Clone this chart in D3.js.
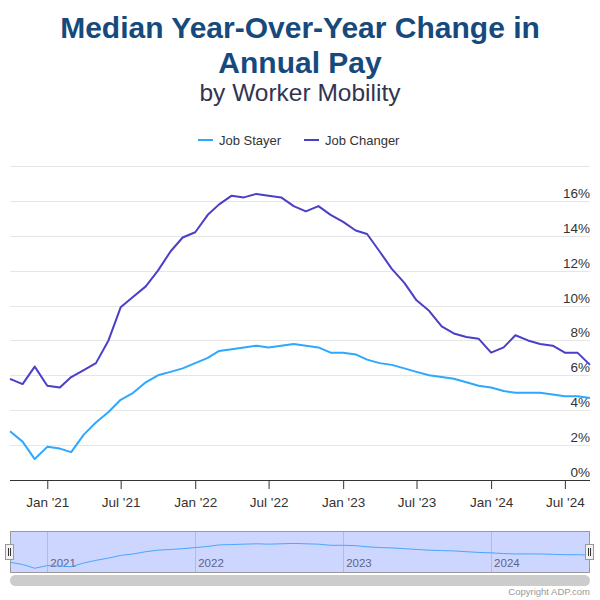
<!DOCTYPE html>
<html>
<head>
<meta charset="utf-8">
<script src="https://cdn.jsdelivr.net/npm/d3@7"></script>
<style>
  html, body { margin: 0; padding: 0; background: #fff; }
  svg { display: block; font-family: "Liberation Sans", Arial, Helvetica, sans-serif; }
</style>
</head>
<body>
<svg id="chart" width="600" height="600"></svg>
<script>
// ---- Data ----
const months = [
  "2020-10","2020-11","2020-12",
  "2021-01","2021-02","2021-03","2021-04","2021-05","2021-06","2021-07","2021-08","2021-09","2021-10","2021-11","2021-12",
  "2022-01","2022-02","2022-03","2022-04","2022-05","2022-06","2022-07","2022-08","2022-09","2022-10","2022-11","2022-12",
  "2023-01","2023-02","2023-03","2023-04","2023-05","2023-06","2023-07","2023-08","2023-09","2023-10","2023-11","2023-12",
  "2024-01","2024-02","2024-03","2024-04","2024-05","2024-06","2024-07","2024-08","2024-09"
];
const jobStayer = [
  2.8, 2.2, 1.2,
  1.9, 1.8, 1.6, 2.6, 3.3, 3.9, 4.6, 5.0, 5.6, 6.0, 6.2, 6.4,
  6.7, 7.0, 7.4, 7.5, 7.6, 7.7, 7.6, 7.7, 7.8, 7.7, 7.6, 7.3,
  7.3, 7.2, 6.9, 6.7, 6.6, 6.4, 6.2, 6.0, 5.9, 5.8, 5.6, 5.4,
  5.3, 5.1, 5.0, 5.0, 5.0, 4.9, 4.8, 4.8, 4.7
];
const jobChanger = [
  5.8, 5.5, 6.5,
  5.4, 5.3, 5.9, 6.3, 6.7, 8.0, 9.9, 10.5, 11.1, 12.0, 13.1, 13.9,
  14.2, 15.2, 15.8, 16.3, 16.2, 16.4, 16.3, 16.2, 15.7, 15.4, 15.7, 15.2,
  14.8, 14.3, 14.1, 13.1, 12.1, 11.3, 10.3, 9.7, 8.8, 8.4, 8.2, 8.1,
  7.3, 7.6, 8.3, 8.0, 7.8, 7.7, 7.3, 7.3, 6.6
];
const seriesNames = ["Job Stayer", "Job Changer"];
const seriesColors = ["#2ea8ff", "#4a3fc6"];
const yTicks = [0, 2, 4, 6, 8, 10, 12, 14, 16, 18];
const xTickDates = ["2021-01","2021-07","2022-01","2022-07","2023-01","2023-07","2024-01","2024-07"];
const navYears = ["2021","2022","2023","2024"];
const titleLines = ["Median Year-Over-Year Change in", "Annual Pay"];
const subtitleText = "by Worker Mobility";
const creditText = "Copyright ADP.com";

// ---- Setup ----
const parse = d3.timeParse("%Y-%m");
const dates = months.map(parse);
const svg = d3.select("#chart");

const plotLeft = 10, plotRight = 590, plotTop = 166, plotBottom = 480;

const x = d3.scaleTime().domain(d3.extent(dates)).range([plotLeft, plotRight]);
const y = d3.scaleLinear().domain([0, 18]).range([plotBottom, plotTop]);

// Title
svg.append("g").selectAll("text").data(titleLines).join("text")
  .attr("x", 300).attr("y", (d, i) => 38 + i * 35)
  .attr("text-anchor", "middle")
  .attr("font-size", 30).attr("font-weight", "bold")
  .attr("fill", "#174a7c")
  .text(d => d);

svg.append("text")
  .attr("x", 300).attr("y", 101)
  .attr("text-anchor", "middle")
  .attr("font-size", 24.5)
  .attr("fill", "#333352")
  .text(subtitleText);

// Legend
const legendX = [198, 304];
const lg = svg.append("g").selectAll("g").data(seriesNames).join("g")
  .attr("transform", (d, i) => `translate(${legendX[i]},140)`);
lg.append("line").attr("x1", 0).attr("x2", 15).attr("y1", 0).attr("y2", 0)
  .attr("stroke", (d, i) => seriesColors[i]).attr("stroke-width", 2);
lg.append("text").attr("x", 21).attr("y", 4.5)
  .attr("font-size", 13).attr("fill", "#333").text(d => d);

// Grid lines
svg.append("g").selectAll("line").data(yTicks.filter(t => t > 0)).join("line")
  .attr("x1", plotLeft).attr("x2", plotRight)
  .attr("y1", d => Math.round(y(d)) + 0.5).attr("y2", d => Math.round(y(d)) + 0.5)
  .attr("stroke", "#e6e6e6").attr("stroke-width", 1);

// Y labels (right, above gridline)
svg.append("g").selectAll("text").data(yTicks.filter(t => t <= 16)).join("text")
  .attr("x", plotRight).attr("y", d => y(d) - 3)
  .attr("text-anchor", "end")
  .attr("font-size", 13.5).attr("fill", "#333")
  .text(d => d + "%");

// X axis
const xAxis = d3.axisBottom(x)
  .tickValues(xTickDates.map(parse))
  .tickSize(9)
  .tickPadding(8)
  .tickFormat(d3.timeFormat("%b '%y"));
const xg = svg.append("g").attr("transform", `translate(0,${plotBottom})`).call(xAxis);
xg.select(".domain").attr("stroke", "#333").attr("d", `M${plotLeft},0.5H${plotRight}`);
xg.selectAll(".tick line").attr("stroke", "#333");
xg.selectAll(".tick text").attr("font-size", 13.5).attr("fill", "#333")
  .attr("font-family", "Liberation Sans, Arial, sans-serif");

// Lines
const series = [jobStayer, jobChanger];
const line = d3.line().x((d, i) => x(dates[i])).y(d => y(d));
svg.append("g").selectAll("path").data(series).join("path")
  .attr("d", d => line(d))
  .attr("fill", "none")
  .attr("stroke", (d, i) => seriesColors[i])
  .attr("stroke-width", 2)
  .attr("stroke-linejoin", "round");

// ---- Navigator ----
const navTop = 531, navBottom = 572;
const ny = d3.scaleLinear().domain([0.2, 11.1]).range([navBottom, navTop]);
const yearParse = d3.timeParse("%Y");
const nav = svg.append("g");
nav.append("rect").attr("x", plotLeft).attr("y", navTop)
  .attr("width", plotRight - plotLeft).attr("height", navBottom - navTop)
  .attr("fill", "#ccd6ff");
nav.append("g").selectAll("line").data(navYears).join("line")
  .attr("x1", d => Math.round(x(yearParse(d))) + 0.5)
  .attr("x2", d => Math.round(x(yearParse(d))) + 0.5)
  .attr("y1", navTop).attr("y2", navBottom)
  .attr("stroke", "#b0bce8").attr("stroke-width", 1);
nav.append("g").selectAll("text").data(navYears).join("text")
  .attr("x", d => x(yearParse(d)) + 3)
  .attr("y", 567)
  .attr("font-size", 11.5).attr("fill", "#636385")
  .text(d => d);
const navLine = d3.line().x((d, i) => x(dates[i])).y(d => ny(d));
nav.append("path").attr("d", navLine(jobStayer))
  .attr("fill", "none").attr("stroke", "#4aa6ff").attr("stroke-width", 1);
nav.append("rect").attr("x", plotLeft + 0.5).attr("y", navTop + 0.5)
  .attr("width", plotRight - plotLeft - 1).attr("height", navBottom - navTop)
  .attr("fill", "none").attr("stroke", "#999").attr("stroke-width", 1);
// handles
[plotLeft, plotRight].forEach(hx => {
  const h = nav.append("g").attr("transform", `translate(${hx},544)`);
  h.append("rect").attr("x", -4.5).attr("y", 0.5).attr("width", 8).attr("height", 15)
    .attr("fill", "#f2f2f2").attr("stroke", "#999").attr("stroke-width", 1);
  h.append("line").attr("x1", -1.5).attr("x2", -1.5).attr("y1", 4).attr("y2", 12).attr("stroke", "#333");
  h.append("line").attr("x1", 0.5).attr("x2", 0.5).attr("y1", 4).attr("y2", 12).attr("stroke", "#333");
});
// scrollbar
nav.append("rect").attr("x", plotLeft).attr("y", 575).attr("width", plotRight - plotLeft).attr("height", 11)
  .attr("rx", 5.5).attr("fill", "#cccccc");

// Credit
svg.append("text").attr("x", plotRight).attr("y", 595)
  .attr("text-anchor", "end").attr("font-size", 9.5).attr("fill", "#999")
  .text(creditText);
</script>
</body>
</html>
